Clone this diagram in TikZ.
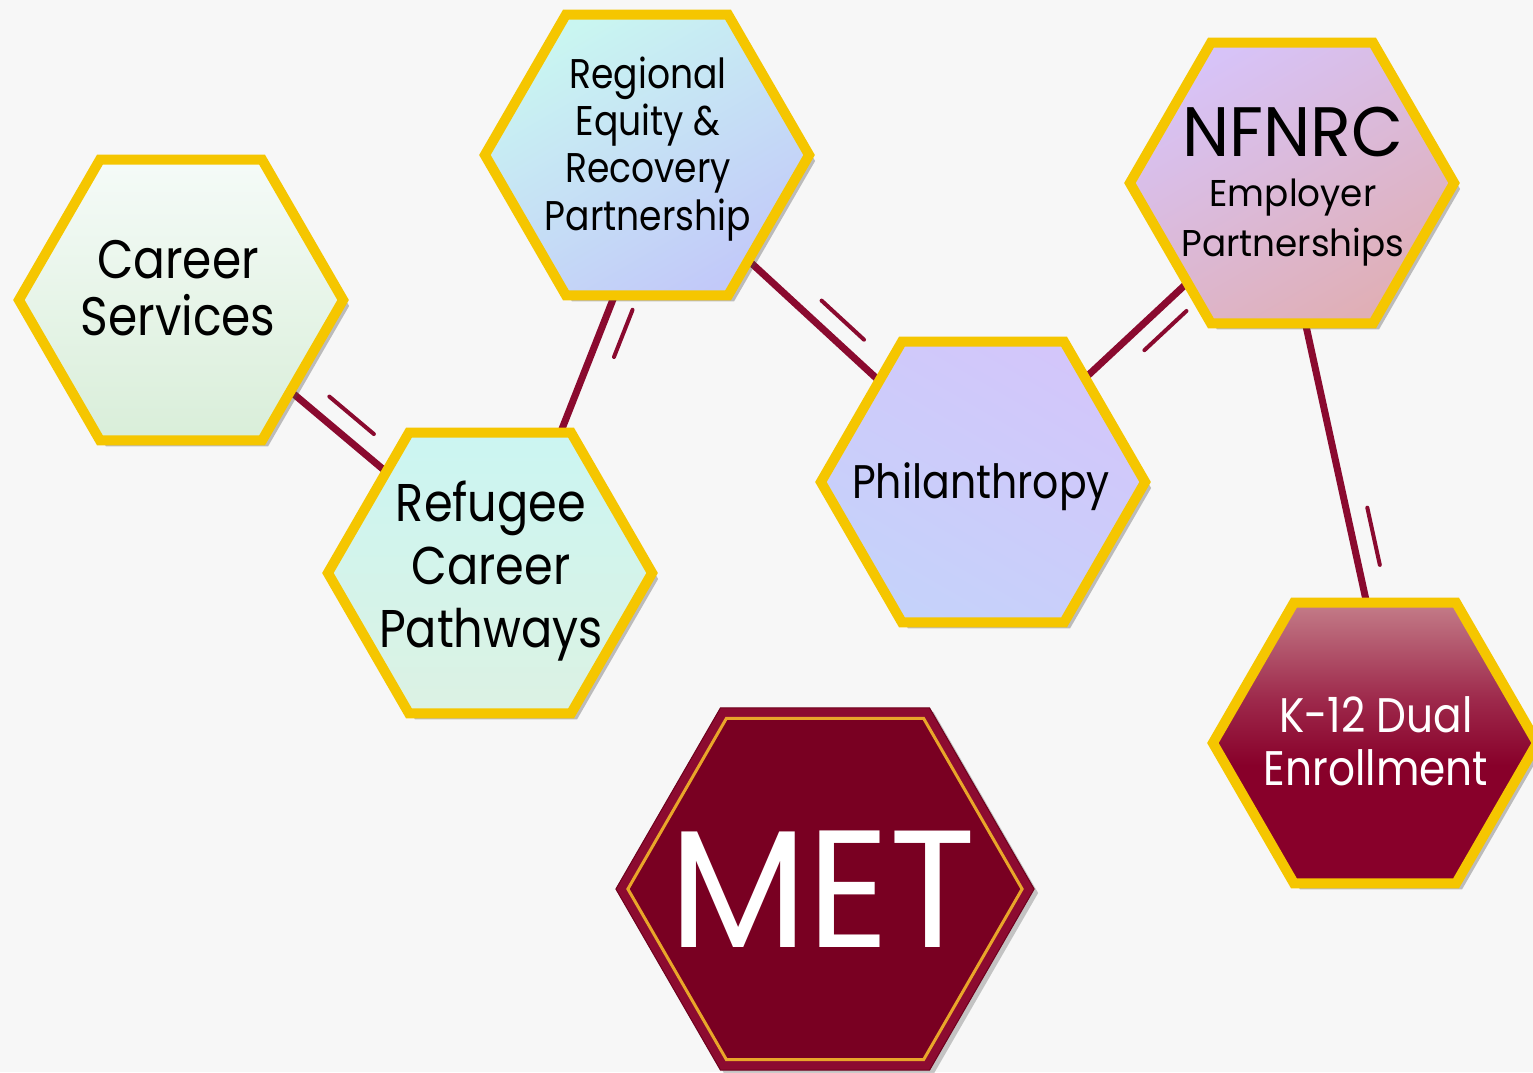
\documentclass[tikz,border=0pt]{standalone}
\usepackage{fontspec}
\setmainfont{Poppins}[FakeStretch=0.87]
\newfontfamily\widef{Poppins}[FakeStretch=0.96]
\usetikzlibrary{shapes.geometric,calc,shadows}
\definecolor{bgc}{HTML}{F7F7F7}
\definecolor{gold}{HTML}{F5C600}
\definecolor{conn}{HTML}{8A0A2F}
\definecolor{metband}{HTML}{8C0B30}
\definecolor{metin}{HTML}{790022}
\definecolor{metline}{HTML}{E9A62A}
\definecolor{metedge}{HTML}{6E001C}
\definecolor{csT}{HTML}{F5FBF8}\definecolor{csB}{HTML}{D9EED9}
\definecolor{rcpT}{HTML}{CBF5F2}\definecolor{rcpB}{HTML}{DCF2E3}
\definecolor{regT}{HTML}{C9F6F1}\definecolor{regB}{HTML}{C2C9F9}
\definecolor{phiT}{HTML}{D3C6FA}\definecolor{phiB}{HTML}{C5D2FA}
\definecolor{nfT}{HTML}{D7C3F8}\definecolor{nfB}{HTML}{E0AFB6}
\definecolor{kT}{HTML}{C47D89}\definecolor{kM}{HTML}{9E2A4C}\definecolor{kB}{HTML}{88002A}
\pgfdeclareverticalshading{kshade}{100bp}{color(0bp)=(kB); color(46bp)=(kB); color(58bp)=(kM); color(75bp)=(kT); color(100bp)=(kT)}
\pgfdeclarelayer{bgl}
\pgfdeclarelayer{lines}
\pgfsetlayers{bgl,lines,main}
\begin{document}
\begin{tikzpicture}[x=0.01cm,y=-0.01cm,
  hexa/.style={regular polygon, regular polygon sides=6, minimum size=3.24cm,
    inner sep=0pt, outer sep=0pt, draw=gold, line width=0.1cm,
    drop shadow={shadow xshift=0.06cm, shadow yshift=-0.06cm, opacity=0.35, fill=black!70}},
  txt/.style={align=center, text=black, inner sep=0pt},
  mainline/.style={draw=conn, line width=0.07cm},
  tick/.style={draw=conn, line width=0.04cm, line cap=round}]
\begin{pgfonlayer}{bgl}
\fill[bgc] (0,0) rectangle (1533,1072);
\end{pgfonlayer}
\useasboundingbox (0,0) rectangle (1533,1072);
\clip (0,0) rectangle (1533,1072);

% hexagons
\node[hexa, top color=csT, bottom color=csB] (cs) at (181,300) {};
\node[hexa, top color=rcpT, bottom color=rcpB] (rcp) at (490,573) {};
\node[hexa, top color=regT, bottom color=regB, shading angle=30] (reg) at (647,155) {};
\node[hexa, top color=phiT, bottom color=phiB, shading angle=-30] (phi) at (983,482) {};
\node[hexa, top color=nfT, bottom color=nfB, shading angle=30] (nf) at (1292,183) {};
\node[hexa, shading=kshade] (k12) at (1375,743) {};
\node[regular polygon, regular polygon sides=6, minimum size=4.18cm, inner sep=0pt, outer sep=0pt,
  fill=metband, draw=metedge, line width=0.01cm,
  drop shadow={shadow xshift=0.04cm, shadow yshift=-0.04cm, opacity=0.3, fill=black!70}] (met) at (825,889) {};
\node[regular polygon, regular polygon sides=6, minimum size=3.94cm, inner sep=0pt, outer sep=0pt,
  fill=metin, draw=metline, line width=0.03cm] (metin) at (825,889) {};

% texts
\node[txt, font=\fontsize{15.4}{16.2}\selectfont] (cs-t) at (178,288) {Career\\Services};
\node[txt, font=\fontsize{15.1}{17.9}\selectfont] (rcp-t) at (491,571) {Refugee\\Career\\Pathways};
\node[txt, font=\fontsize{11.8}{13.4}\selectfont] (reg-t) at (648,149) {Regional\\Equity \&\\Recovery\\Partnership};
\node[txt, font=\fontsize{13.4}{16}\selectfont] (phi-t) at (981,487) {Philanthropy};
\node[txt, font=\widef\fontsize{10.6}{14.2}\selectfont] (nf-t) at (1293,187) {{\fontsize{19.9}{14.2}\selectfont NFNRC}\\Employer\\Partnerships};
\node[txt, text=white, font=\fontsize{13.8}{15.1}\selectfont] (k12-t) at (1376,741) {K-12 Dual\\Enrollment};
\node[txt, text=white, font=\widef\fontsize{47.5}{50}\selectfont] (met-t) at (823,889) {MET};

% connectors
\begin{pgfonlayer}{lines}
\draw[mainline] ($(cs.corner 6)!0.65!(cs.corner 5)$) coordinate (l1a) -- ($(rcp.corner 2)!0.28!(rcp.corner 3)$) coordinate (l1b);
\draw[tick] ($(l1a)!0.265!(l1b)!0.21cm!90:(l1b)$) -- ($(l1a)!0.73!(l1b)!0.21cm!90:(l1b)$);
\draw[mainline] ($(reg.corner 4)!0.30!(reg.corner 5)$) coordinate (l2a) -- ($(rcp.corner 2)!0.935!(rcp.corner 1)$) coordinate (l2b);
\draw[tick] ($(l2a)!0.046!(l2b)!0.22cm!90:(l2b)$) -- ($(l2a)!0.39!(l2b)!0.22cm!90:(l2b)$);
\draw[mainline] ($(reg.corner 6)!0.75!(reg.corner 5)$) coordinate (l3a) -- ($(phi.corner 2)!0.28!(phi.corner 3)$) coordinate (l3b);
\draw[tick] ($(l3a)!0.456!(l3b)!0.2cm!90:(l3b)$) -- ($(l3a)!0.78!(l3b)!0.2cm!90:(l3b)$);
\draw[mainline] ($(phi.corner 1)!0.26!(phi.corner 6)$) coordinate (l4a) -- ($(nf.corner 4)!0.29!(nf.corner 3)$) coordinate (l4b);
\draw[tick] ($(l4a)!0.446!(l4b)!0.2cm!-90:(l4b)$) -- ($(l4a)!0.857!(l4b)!0.2cm!-90:(l4b)$);
\draw[mainline] ($(nf.corner 4)!0.583!(nf.corner 5)$) coordinate (l5a) -- ($(k12.corner 2)!0.448!(k12.corner 1)$) coordinate (l5b);
\draw[tick] ($(l5a)!0.676!(l5b)!0.21cm!90:(l5b)$) -- ($(l5a)!0.881!(l5b)!0.21cm!90:(l5b)$);
\end{pgfonlayer}
\end{tikzpicture}
\end{document}
